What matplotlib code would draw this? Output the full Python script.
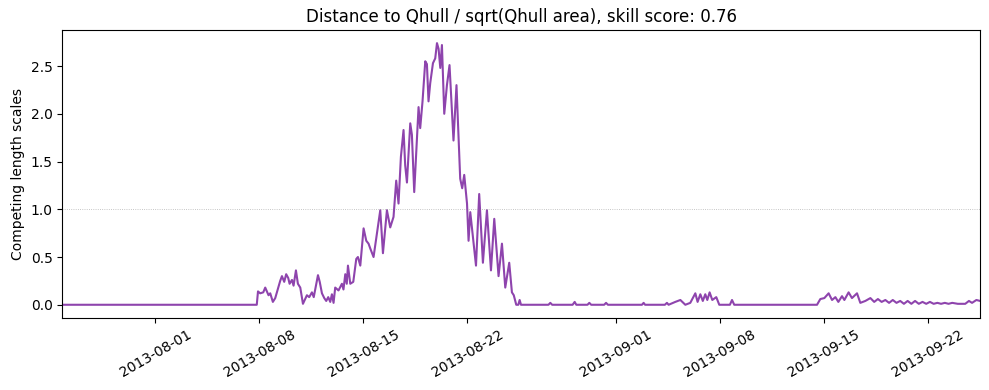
import pandas as pd
import matplotlib
matplotlib.use("Agg")
import matplotlib.pyplot as plt

# competing length scale ratio
times = [
    "2013-07-25 18:00", "2013-08-07 20:00", "2013-08-07 22:00", "2013-08-08 01:30",
    "2013-08-08 06:30", "2013-08-08 09:40", "2013-08-08 15:00", "2013-08-08 17:45",
    "2013-08-08 22:00", "2013-08-09 01:50", "2013-08-09 09:50", "2013-08-09 12:40",
    "2013-08-09 16:20", "2013-08-09 19:30", "2013-08-09 22:50", "2013-08-10 01:00",
    "2013-08-10 04:50", "2013-08-10 07:25", "2013-08-10 11:15", "2013-08-10 14:25",
    "2013-08-10 18:15", "2013-08-10 22:35", "2013-08-11 01:30", "2013-08-11 05:00",
    "2013-08-11 08:40", "2013-08-11 13:05", "2013-08-11 16:00", "2013-08-11 19:30",
    "2013-08-11 22:50", "2013-08-12 01:40", "2013-08-12 05:15", "2013-08-12 09:00",
    "2013-08-12 12:10", "2013-08-12 15:25", "2013-08-12 18:40", "2013-08-12 21:20",
    "2013-08-13 00:00", "2013-08-13 02:40", "2013-08-13 08:00", "2013-08-13 13:30",
    "2013-08-13 16:00", "2013-08-13 18:55", "2013-08-13 21:20", "2013-08-13 23:15",
    "2013-08-14 03:00", "2013-08-14 07:50", "2013-08-14 12:40", "2013-08-14 15:20",
    "2013-08-14 19:10", "2013-08-15 00:30", "2013-08-15 04:50", "2013-08-15 08:30",
    "2013-08-15 11:15", "2013-08-15 16:35", "2013-08-15 22:05", "2013-08-16 03:25",
    "2013-08-16 07:45", "2013-08-16 14:10", "2013-08-16 19:30", "2013-08-17 00:50",
    "2013-08-17 05:10", "2013-08-17 08:55", "2013-08-17 12:45", "2013-08-17 17:00",
    "2013-08-17 19:40", "2013-08-17 22:30", "2013-08-18 03:50", "2013-08-18 06:30",
    "2013-08-18 10:15", "2013-08-18 17:15", "2013-08-18 19:55", "2013-08-18 23:40",
    "2013-08-19 04:05", "2013-08-19 06:45", "2013-08-19 09:20", "2013-08-19 12:05",
    "2013-08-19 16:30", "2013-08-19 20:10", "2013-08-19 23:00", "2013-08-20 01:35",
    "2013-08-20 04:20", "2013-08-20 07:00", "2013-08-20 10:45", "2013-08-20 15:05",
    "2013-08-20 19:15", "2013-08-21 01:40", "2013-08-21 06:30", "2013-08-21 12:30",
    "2013-08-21 15:45", "2013-08-21 19:00", "2013-08-21 23:30", "2013-08-22 02:00",
    "2013-08-22 04:45", "2013-08-22 07:25", "2013-08-22 14:00", "2013-08-22 19:10",
    "2013-08-23 01:10", "2013-08-23 07:40", "2013-08-23 14:10", "2013-08-23 19:30",
    "2013-08-24 02:25", "2013-08-24 07:55", "2013-08-24 13:15", "2013-08-24 19:40",
    "2013-08-25 00:00", "2013-08-25 03:00", "2013-08-25 07:00", "2013-08-25 10:20",
    "2013-08-25 12:30", "2013-08-25 14:40", "2013-08-27 11:00", "2013-08-27 14:00",
    "2013-08-27 17:00", "2013-08-29 02:00", "2013-08-29 05:20", "2013-08-29 08:00",
    "2013-08-30 02:00", "2013-08-30 05:00", "2013-08-30 08:00", "2013-08-31 05:00",
    "2013-08-31 08:00", "2013-08-31 11:00", "2013-09-02 18:00", "2013-09-02 20:40",
    "2013-09-02 23:00", "2013-09-04 07:00", "2013-09-04 10:20", "2013-09-04 13:00",
    "2013-09-04 23:50", "2013-09-05 08:00", "2013-09-05 16:00", "2013-09-06 00:00",
    "2013-09-06 08:10", "2013-09-06 11:50", "2013-09-06 16:15", "2013-09-06 20:15",
    "2013-09-07 00:15", "2013-09-07 03:30", "2013-09-07 07:15", "2013-09-07 11:35",
    "2013-09-07 18:00", "2013-09-07 22:50", "2013-09-08 16:00", "2013-09-08 19:25",
    "2013-09-08 23:00", "2013-09-14 12:40", "2013-09-14 18:00", "2013-09-15 00:30",
    "2013-09-15 07:25", "2013-09-15 12:55", "2013-09-15 18:20", "2013-09-15 23:05",
    "2013-09-16 05:00", "2013-09-16 08:50", "2013-09-16 15:40", "2013-09-16 21:05",
    "2013-09-17 05:15", "2013-09-17 10:35", "2013-09-17 18:40", "2013-09-18 02:50",
    "2013-09-18 09:00", "2013-09-18 15:00", "2013-09-18 21:00", "2013-09-19 03:00",
    "2013-09-19 09:00", "2013-09-19 15:00", "2013-09-19 21:00", "2013-09-20 03:00",
    "2013-09-20 09:00", "2013-09-20 15:00", "2013-09-20 21:00", "2013-09-21 03:00",
    "2013-09-21 09:00", "2013-09-21 15:00", "2013-09-21 21:00", "2013-09-22 03:00",
    "2013-09-22 09:00", "2013-09-22 15:00", "2013-09-22 21:00", "2013-09-23 03:00",
    "2013-09-23 09:00", "2013-09-23 15:00", "2013-09-24 00:00", "2013-09-24 12:00",
    "2013-09-24 18:00", "2013-09-24 23:00", "2013-09-25 06:00", "2013-09-25 12:00",
]
values = [
    0.0, 0.0, 0.14, 0.12,
    0.13, 0.18, 0.10, 0.12,
    0.03, 0.07, 0.25, 0.30,
    0.24, 0.32, 0.28, 0.22,
    0.26, 0.20, 0.36, 0.22,
    0.18, 0.01, 0.05, 0.10,
    0.08, 0.13, 0.08, 0.20,
    0.31, 0.24, 0.12, 0.07,
    0.04, 0.08, 0.03, 0.11,
    0.02, 0.18, 0.15, 0.22,
    0.16, 0.32, 0.22, 0.41,
    0.22, 0.24, 0.48, 0.50,
    0.41, 0.80, 0.67, 0.64,
    0.59, 0.50, 0.75, 0.99,
    0.54, 0.99, 0.81, 0.92,
    1.30, 1.06, 1.55, 1.83,
    1.46, 1.28, 1.90, 1.78,
    1.18, 2.07, 1.85, 2.13,
    2.55, 2.52, 2.13, 2.32,
    2.53, 2.58, 2.74, 2.68,
    2.48, 2.72, 2.00, 2.30,
    2.51, 1.72, 2.30, 1.32,
    1.22, 1.36, 1.06, 0.67,
    0.97, 0.81, 0.41, 1.16,
    0.44, 0.99, 0.36, 0.90,
    0.30, 0.64, 0.18, 0.44,
    0.13, 0.10, 0.0, 0.0,
    0.05, 0.0, 0.0, 0.02,
    0.0, 0.0, 0.03, 0.0,
    0.0, 0.02, 0.0, 0.0,
    0.02, 0.0, 0.0, 0.02,
    0.0, 0.0, 0.02, 0.0,
    0.03, 0.05, 0.0, 0.02,
    0.12, 0.03, 0.11, 0.04,
    0.11, 0.05, 0.13, 0.05,
    0.08, 0.0, 0.0, 0.05,
    0.0, 0.0, 0.06, 0.07,
    0.12, 0.05, 0.08, 0.03,
    0.09, 0.05, 0.13, 0.07,
    0.12, 0.02, 0.04, 0.07,
    0.03, 0.06, 0.03, 0.05,
    0.02, 0.05, 0.02, 0.04,
    0.01, 0.04, 0.01, 0.04,
    0.01, 0.03, 0.01, 0.03,
    0.01, 0.02, 0.01, 0.02,
    0.01, 0.02, 0.01, 0.01,
    0.04, 0.02, 0.05, 0.04,
]

title = "Distance to Qhull / sqrt(Qhull area), skill score: 0.76"
threshold = 1.0

dates = pd.to_datetime(times)

fig, ax = plt.subplots(figsize=(9.89, 3.9), dpi=100)
ax.plot(dates, values, color="#8e44ad", lw=1.5)
ax.axhline(threshold, color="gray", ls=":", lw=0.6, alpha=0.6)
ax.set_xlim(dates[0], dates[-1])
ax.set_ylabel("Competing length scales")
ax.set_title(title)
plt.setp(ax.get_xticklabels(), rotation=30)
fig.subplots_adjust(left=0.063, right=0.991, top=0.923, bottom=0.185)
plt.savefig("out.png")
